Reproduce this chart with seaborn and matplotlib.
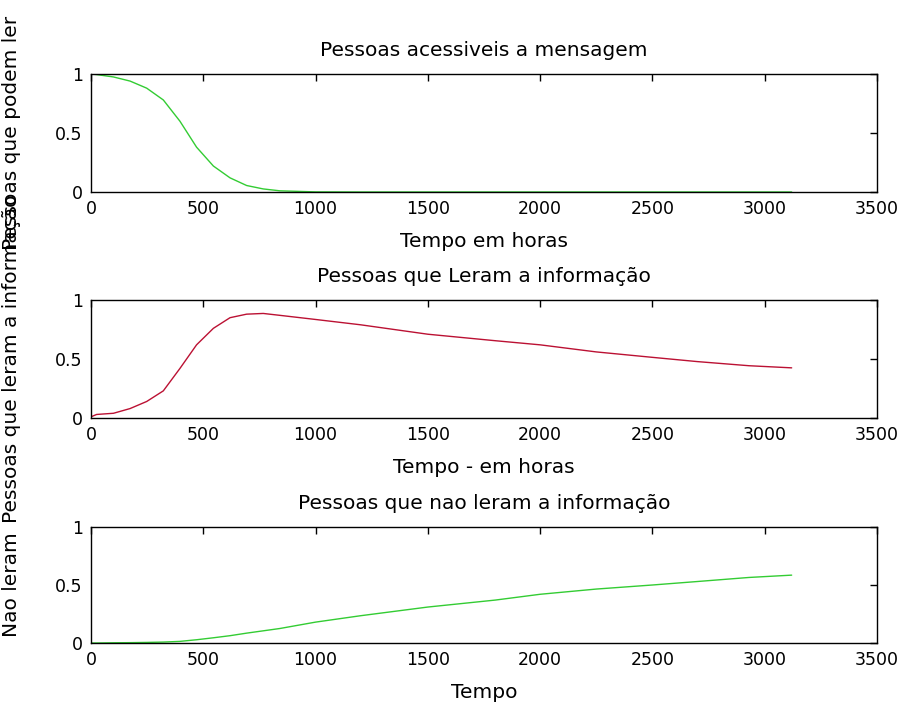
import matplotlib
matplotlib.use("Agg")
import matplotlib.pyplot as plt
import seaborn as sns
import pandas as pd

# ---- data ----
tempo = [0, 25, 100, 174, 248, 322, 396, 470, 545, 619, 693, 767, 841,
         1000, 1200, 1500, 1800, 2000, 2250, 2500, 2700, 2930, 3120]
acessiveis = [1.0, 0.995, 0.975, 0.94, 0.88, 0.78, 0.60, 0.38, 0.22, 0.12,
              0.055, 0.026, 0.01, 0.001, 0, 0, 0, 0, 0, 0, 0, 0, 0]
leram = [0.01, 0.03, 0.04, 0.08, 0.14, 0.23, 0.42, 0.62, 0.76, 0.85, 0.88,
         0.886, 0.87, 0.835, 0.79, 0.71, 0.655, 0.62, 0.56, 0.514, 0.478,
         0.443, 0.425]
nao_leram = [0.0, 0.0, 0.002, 0.003, 0.005, 0.008, 0.014, 0.028, 0.045,
             0.063, 0.085, 0.105, 0.125, 0.18, 0.235, 0.31, 0.37, 0.42,
             0.465, 0.50, 0.53, 0.565, 0.585]

titles = ["Pessoas acessiveis a mensagem",
          "Pessoas que Leram a informação",
          "Pessoas que nao leram a informação"]
xlabels = ["Tempo em horas", "Tempo - em horas", "Tempo"]
ylabels = ["Pessoas que podem ler", "Pessoas que leram a informação", "Nao leram"]
colors = ["#33cc33", "#bb1133", "#33cc33"]
xticks = [0, 500, 1000, 1500, 2000, 2500, 3000, 3500]
yticks = [0, 0.5, 1]
ytick_labels = ["0", "0.5", "1"]

sns.set_style("white")
plt.rcParams["font.family"] = ["DejaVu Sans"]
plt.rcParams["text.color"] = "black"
plt.rcParams["axes.labelcolor"] = "black"

fig = plt.figure(figsize=(9.01, 7.11), dpi=100)
W, H = 901, 711
boxes = [(74, 192), (300, 418), (527, 643)]
left, right = 91, 877

series = [acessiveis, leram, nao_leram]
for i, (top, bot) in enumerate(boxes):
    ax = fig.add_axes([left / W, 1 - bot / H, (right - left) / W, (bot - top) / H])
    df = pd.DataFrame({"t": tempo, "v": series[i]})
    sns.lineplot(data=df, x="t", y="v", ax=ax, color=colors[i], linewidth=1.0)
    ax.set_xlim(0, 3500)
    ax.set_ylim(0, 1)
    ax.set_xticks(xticks)
    ax.set_xticklabels([str(v) for v in xticks])
    ax.set_yticks(yticks)
    ax.set_yticklabels(ytick_labels)
    ax.tick_params(direction="in", top=True, right=True, length=5, width=1,
                   labelsize=12.5, pad=6, colors="black")
    for s in ax.spines.values():
        s.set_visible(True)
        s.set_color("black")
        s.set_linewidth(1.0)
    ax.set_title(titles[i], fontsize=14.5, pad=13, color="black")
    ax.set_xlabel(xlabels[i], fontsize=14.5, color="black")
    ax.set_ylabel(ylabels[i], fontsize=14.5, color="black")
    h = bot - top
    ax.xaxis.set_label_coords(0.5, -40 / h)
    ax.xaxis.label.set_va("top")
    ax.yaxis.set_label_coords((21 - left) / (right - left), 0.5)

fig.savefig("out.png", dpi=100, facecolor="white")
